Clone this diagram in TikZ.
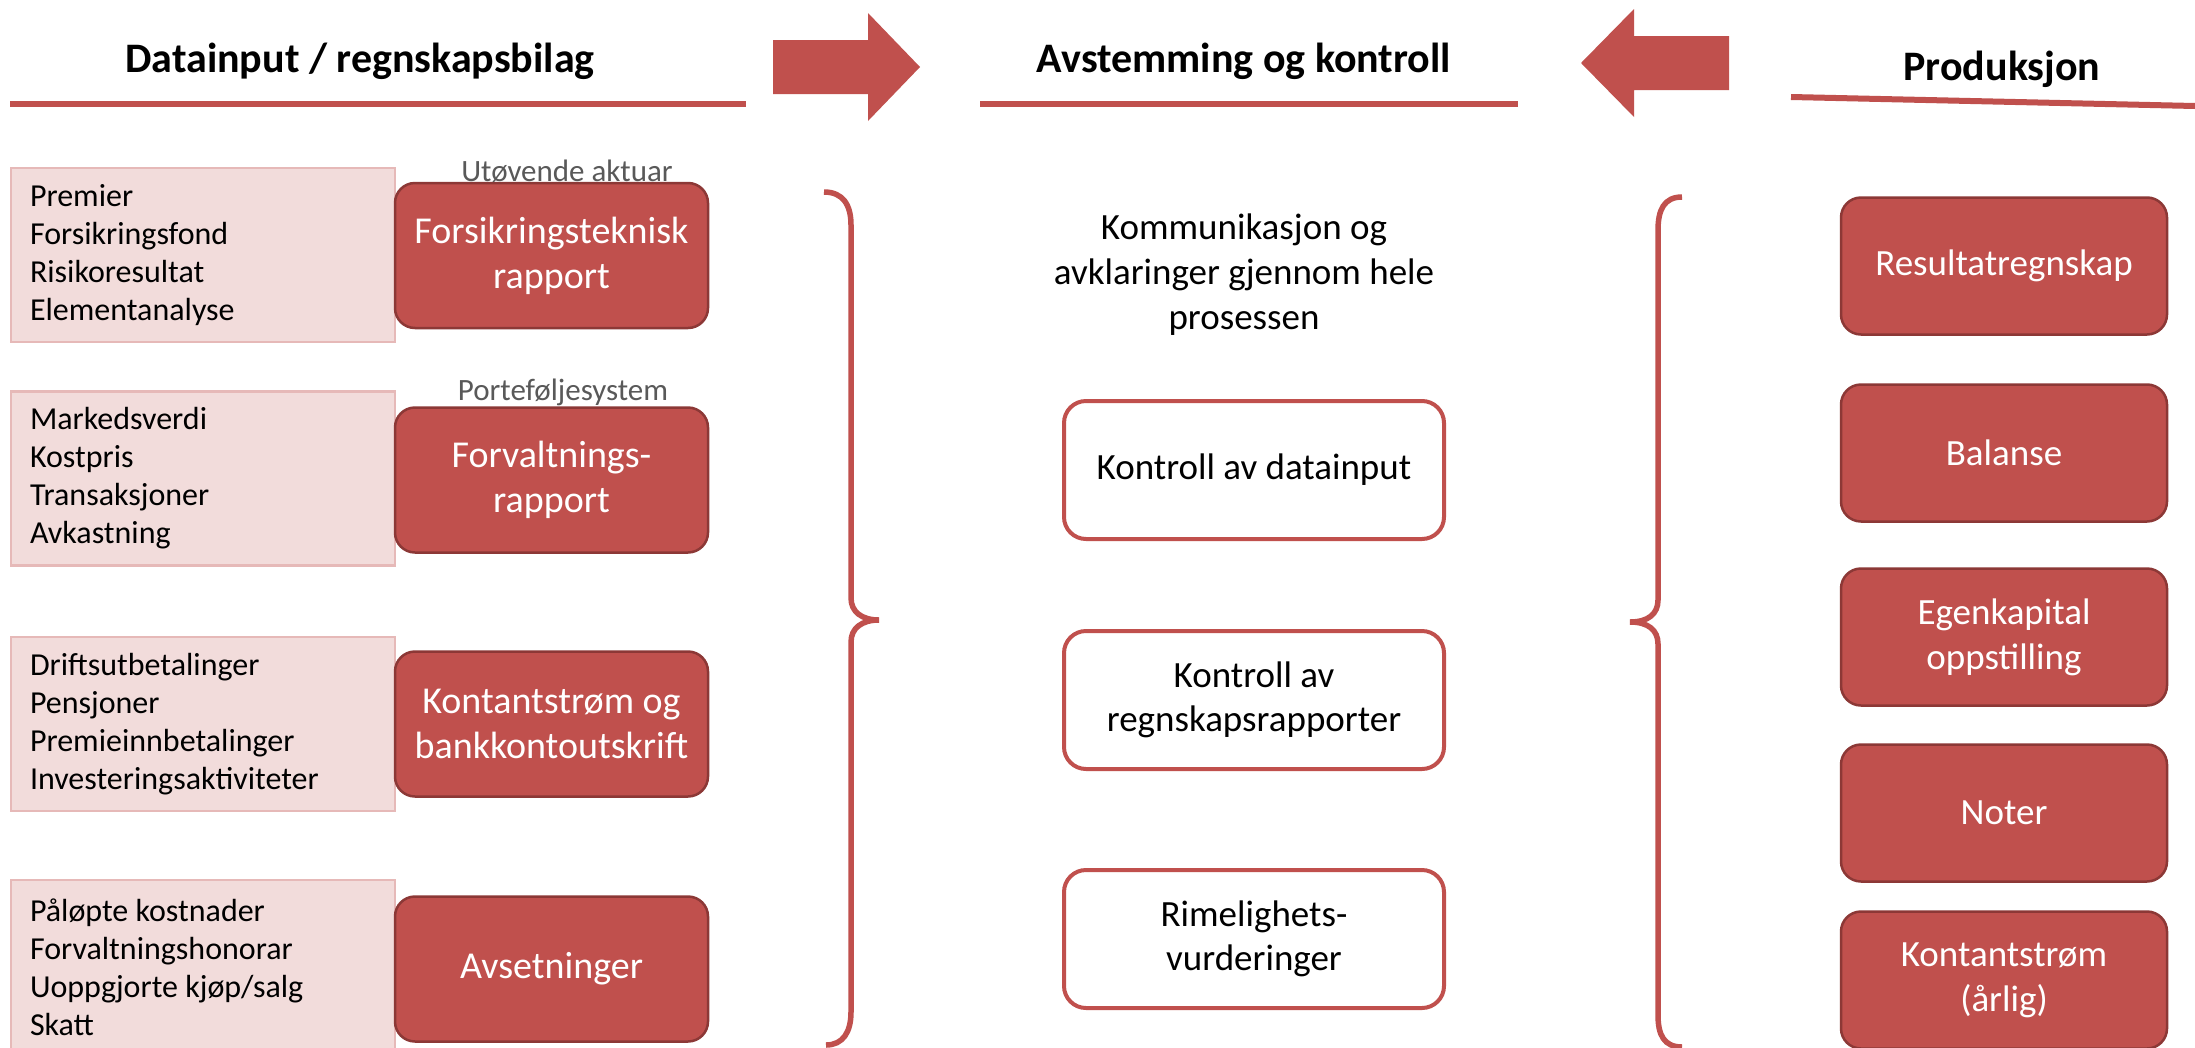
\documentclass[tikz,border=0pt]{standalone}
\usepackage{fontspec}
\setmainfont{Carlito}
\definecolor{accred}{HTML}{C0504D}
\definecolor{darkred}{HTML}{8C3836}
\definecolor{pinkfill}{HTML}{F2DCDB}
\definecolor{pinkline}{HTML}{E6B9B8}
\definecolor{greytxt}{HTML}{595959}
\begin{document}
\begin{tikzpicture}[x=1pt,y=-1pt,
  header/.style={font=\fontsize{42}{50}\selectfont\bfseries, anchor=base, inner sep=0pt},
  uline/.style={draw=accred, line width=6pt},
  bigarrow/.style={fill=accred, draw=none},
  inbox/.style={draw=pinkline, line width=2.5pt, fill=pinkfill, minimum width=384pt, minimum height=174pt, text width=346pt, align=flush left, inner sep=0pt, font=\fontsize{32}{38}\selectfont},
  redbox/.style={draw=darkred, line width=2.5pt, fill=accred, rounded corners=20pt, minimum width=313pt, minimum height=145pt, text=white, align=center, font=\fontsize{38}{45}\selectfont, inner sep=0pt},
  outbox/.style={redbox, minimum width=326pt, minimum height=137pt, font=\fontsize{37}{45}\selectfont},
  ctrlbox/.style={draw=accred, line width=4pt, fill=white, rounded corners=22pt, minimum width=380pt, minimum height=138pt, align=center, font=\fontsize{37}{44}\selectfont, inner sep=0pt},
  srclabel/.style={text=greytxt, font=\fontsize{31}{36}\selectfont, inner sep=0pt},
  bracestyle/.style={draw=accred, line width=5.5pt},
  midtext/.style={align=center, font=\fontsize{37}{45}\selectfont, inner sep=0pt}
]
\useasboundingbox (0,0) rectangle (2195,1047);
\fill[white] (0,0) rectangle (2195,1047);

% headers
\node[header] (h1) at (360,72) {Datainput / regnskapsbilag};
\node[header] (h2) at (1244,72) {Avstemming og kontroll};
\node[header] (h3) at (2002,80) {Produksjon};

% underlines
\coordinate (u1a) at (10,104); \coordinate (u1b) at (746,104);
\coordinate (u2a) at (980,104); \coordinate (u2b) at (1518,104);
\coordinate (u3a) at (1791,97); \coordinate (u3b) at (2195,106);
\draw[uline] (u1a) -- (u1b);
\draw[uline] (u2a) -- (u2b);
\draw[uline] (u3a) -- (u3b);

% big arrows
\fill[bigarrow] (773,40) -- (868,40) -- (868,13) -- (920,67) -- (868,121) -- (868,94) -- (773,94) -- cycle;
\fill[bigarrow] (1729,36) -- (1634,36) -- (1634,9) -- (1581,63) -- (1634,117) -- (1634,90) -- (1729,90) -- cycle;

% input boxes
\node[inbox] (p1) at (203,255) {Premier\\Forsikringsfond\\Risikoresultat\\Elementanalyse};
\node[inbox] (p2) at (203,478.5) {Markedsverdi\\Kostpris\\Transaksjoner\\Avkastning};
\node[inbox] (p3) at (203,724) {Driftsutbetalinger\\Pensjoner\\Premieinnbetalinger\\Investeringsaktiviteter};
\node[inbox] (p4) at (203,967) {Påløpte kostnader\\Forvaltningshonorar\\Uoppgjorte kjøp/salg\\Skatt};

\node[redbox] (r1) at (551.5,255.5) {Forsikringsteknisk\\rapport};
\node[redbox] (r2) at (551.5,480) {Forvaltnings-\\rapport};
\node[redbox] (r3) at (551.5,724) {Kontantstrøm og\\bankkontoutskrift};
\node[redbox] (r4) at (551.5,969) {Avsetninger};

\node[srclabel] (l1) at (567,171) {Utøvende aktuar};
\node[srclabel] (l2) at (563,392) {Porteføljesystem};

% left brace
\draw[bracestyle] (824,192) .. controls (843,192) and (851,205) .. (851,225)
  -- (851,598) .. controls (851,612) and (862,620) .. (879,620)
  .. controls (862,620) and (851,628) .. (851,642)
  -- (851,1012) .. controls (851,1032) and (843,1045) .. (826,1045);

% middle column
\node[midtext] (comm) at (1244,275) {Kommunikasjon og\\avklaringer gjennom hele\\prosessen};
\node[ctrlbox] (c1) at (1254,470) {Kontroll av datainput};
\node[ctrlbox] (c2) at (1254,700) {Kontroll av\\regnskapsrapporter};
\node[ctrlbox] (c3) at (1254,939) {Rimelighets-\\vurderinger};

% right brace
\draw[bracestyle] (1682,197) .. controls (1664,197) and (1658,210) .. (1658,230)
  -- (1658,600) .. controls (1658,614) and (1648,622) .. (1630,622)
  .. controls (1648,622) and (1658,630) .. (1658,644)
  -- (1658,1015) .. controls (1658,1035) and (1664,1047) .. (1682,1047);

% production boxes
\node[outbox] (o1) at (2004,266) {Resultatregnskap};
\node[outbox] (o2) at (2004,453) {Balanse};
\node[outbox] (o3) at (2004,637) {Egenkapital\\oppstilling};
\node[outbox] (o4) at (2004,813) {Noter};
\node[outbox] (o5) at (2004,980) {Kontantstrøm\\(årlig)};
\end{tikzpicture}
\end{document}
